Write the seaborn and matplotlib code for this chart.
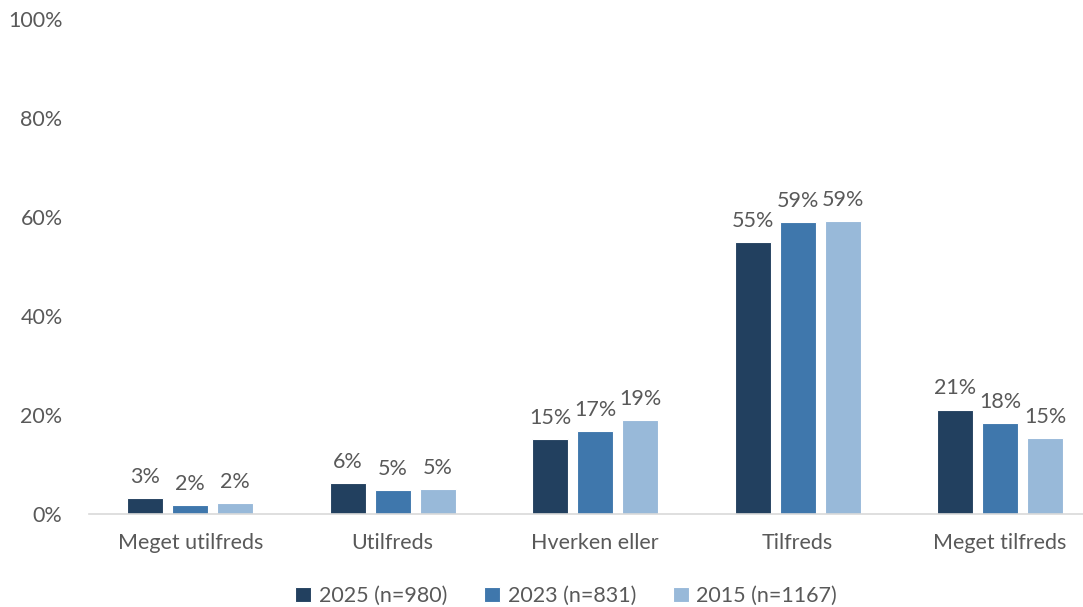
import numpy as np
import pandas as pd
import matplotlib
matplotlib.use("Agg")
import matplotlib.pyplot as plt
import seaborn as sns

# Data ====================================================================
categories = ["Meget utilfreds", "Utilfreds", "Hverken eller", "Tilfreds", "Meget tilfreds"]
series = ["2025 (n=980)", "2023 (n=831)", "2015 (n=1167)"]
values_2025 = [3.2, 6.2, 15.1, 55.0, 21.1]
values_2023 = [1.8, 4.8, 16.7, 58.9, 18.4]
values_2015 = [2.2, 5.0, 19.0, 59.1, 15.4]
labels_2025 = ["3%", "6%", "15%", "55%", "21%"]
labels_2023 = ["2%", "5%", "17%", "59%", "18%"]
labels_2015 = ["2%", "5%", "19%", "59%", "15%"]

df = pd.DataFrame({
    "Kategori": categories * 3,
    "Værdi": values_2025 + values_2023 + values_2015,
    "Serie": [series[0]] * 5 + [series[1]] * 5 + [series[2]] * 5,
})

colors = {series[0]: "#22405F", series[1]: "#3F77AC", series[2]: "#98B9D9"}
text_color = "#595959"
fs = 15.5

sns.set_theme(style="white")
plt.rcParams["font.family"] = ["Lato", "DejaVu Sans"]

fig = plt.figure(figsize=(10.83, 6.07), dpi=100)
ax = fig.add_axes([89 / 1083, 1 - 514 / 607, (1083 - 89) / 1083, (514 - 19) / 607])

sns.barplot(data=df, x="Kategori", y="Værdi", hue="Serie", palette=colors,
            width=0.667, gap=0.2, ax=ax, edgecolor="white", linewidth=0.8,
            saturation=1, legend=True)

# value labels
for container, labs in zip(ax.containers, [labels_2025, labels_2023, labels_2015]):
    ax.bar_label(container, labels=labs, padding=8, fontsize=fs, color=text_color)

ax.set_ylim(0, 100)
ax.set_xlim(-0.5, 4.41)
ax.set_yticks(np.arange(0, 101, 20))
ax.set_yticklabels([f"{v}%" for v in range(0, 101, 20)])
ax.tick_params(axis="y", labelsize=fs, labelcolor=text_color, length=0, pad=19)
ax.tick_params(axis="x", labelsize=fs, labelcolor=text_color, length=0, pad=14)
ax.set_xlabel("")
ax.set_ylabel("")

sns.despine(ax=ax, left=True, top=True, right=True)
ax.spines["bottom"].set_color("#D9D9D9")
ax.spines["bottom"].set_linewidth(1.2)

handles, labs = ax.get_legend_handles_labels()
ax.legend(handles, labs, loc="lower center", bbox_to_anchor=(0.48, -0.225),
          ncol=3, frameon=False, fontsize=fs, labelcolor=text_color,
          handlelength=0.75, handleheight=0.75, handletextpad=0.35, columnspacing=1.7)

fig.savefig("out.png", dpi=100)
